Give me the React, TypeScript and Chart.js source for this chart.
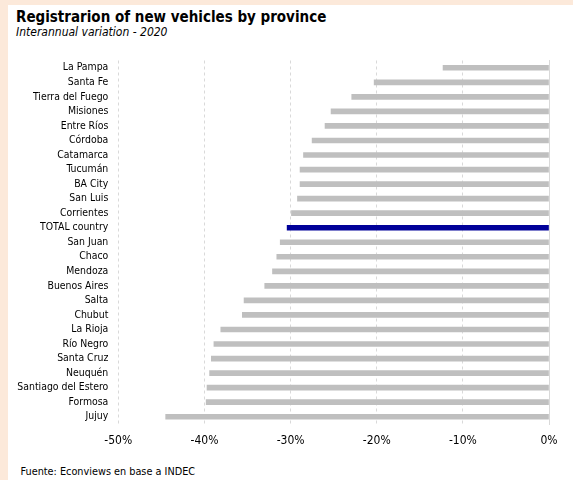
import React, { useEffect, useRef } from "react";
import { Chart, registerables } from "chart.js";

Chart.register(...registerables);

const provinces = [
  "La Pampa", "Santa Fe", "Tierra del Fuego", "Misiones", "Entre Ríos", "Córdoba",
  "Catamarca", "Tucumán", "BA City", "San Luis", "Corrientes", "TOTAL country",
  "San Juan", "Chaco", "Mendoza", "Buenos Aires", "Salta", "Chubut", "La Rioja",
  "Río Negro", "Santa Cruz", "Neuquén", "Santiago del Estero", "Formosa", "Jujuy",
];

const variation = [
  -12.3, -20.3, -22.9, -25.3, -26.0, -27.5,
  -28.5, -28.9, -28.9, -29.2, -29.9, -30.4,
  -31.2, -31.6, -32.1, -33.0, -35.4, -35.6, -38.1,
  -38.9, -39.2, -39.4, -39.7, -39.8, -44.5,
];

const xTicks = [-50, -40, -30, -20, -10, 0];

const FONT = "'DejaVu Sans Condensed', 'DejaVu Sans', sans-serif";

export default function App() {
  const ref = useRef<HTMLCanvasElement | null>(null);

  useEffect(() => {
    if (!ref.current) return;
    const colors = provinces.map((p) => (p === "TOTAL country" ? "#000099" : "#bfbfbf"));
    const chart = new Chart(ref.current, {
      type: "bar",
      data: {
        labels: provinces,
        datasets: [
          {
            data: variation,
            backgroundColor: colors,
            barThickness: 5,
          },
        ],
      },
      options: {
        indexAxis: "y",
        animation: false,
        responsive: false,
        maintainAspectRatio: false,
        layout: { padding: { top: 10.5, right: 16, left: 0, bottom: 0 } },
        plugins: { legend: { display: false }, tooltip: { enabled: false } },
        scales: {
          x: {
            type: "linear",
            min: -50,
            max: 0,
            afterBuildTicks: (scale: any) => {
              scale.ticks = xTicks.map((v) => ({ value: v }));
            },
            afterFit: (scale: any) => {
              scale.height = 26;
              scale.paddingLeft = 0;
              scale.paddingRight = 0;
            },
            grid: { color: "#d9d9d9", drawTicks: false, lineWidth: 1 },
            border: { display: false, dash: [3, 3] },
            ticks: {
              padding: 10,
              color: "#000",
              font: { family: FONT, size: 12 },
              callback: (v: any) => `${v}%`,
            },
          },
          y: {
            type: "category",
            afterFit: (scale: any) => {
              scale.width = 118.3;
              scale.paddingTop = 0;
              scale.paddingBottom = 0;
            },
            grid: { display: false, drawTicks: false },
            border: { display: false },
            ticks: {
              padding: 10,
              color: "#000",
              autoSkip: false,
              font: { family: FONT, size: 10.4 },
            },
          },
          y2: {
            type: "category",
            position: "right",
            afterFit: (scale: any) => {
              scale.width = 0;
              scale.paddingTop = 0;
              scale.paddingBottom = 0;
            },
            grid: { display: false, drawTicks: false },
            border: { display: true, color: "#d9d9d9", width: 1 },
            ticks: { display: false },
          },
        },
      },
    });
    return () => chart.destroy();
  }, []);

  return (
    <div style={{ position: "fixed", left: 0, top: 0, width: 573, height: 480, background: "#fce9da", overflow: "hidden" }}>
      <div style={{ position: "absolute", left: 8, top: 5, width: 565, height: 475, background: "#ffffff" }}>
        <div style={{ position: "absolute", left: 8, top: 3, fontFamily: FONT, fontWeight: "bold", fontSize: 15, color: "#000", whiteSpace: "nowrap" }}>
          Registrarion of new vehicles by province
        </div>
        <div style={{ position: "absolute", left: 8, top: 20, fontFamily: FONT, fontStyle: "italic", fontSize: 12, color: "#000", whiteSpace: "nowrap" }}>
          Interannual variation - 2020
        </div>
        <canvas ref={ref} width={565} height={400} style={{ position: "absolute", left: -8, top: 45, width: 565, height: 400 }} />
        <div style={{ position: "absolute", left: 12.5, top: 460, fontFamily: FONT, fontSize: 10.8, color: "#000", whiteSpace: "nowrap" }}>
          Fuente: Econviews en base a INDEC
        </div>
      </div>
    </div>
  );
}
